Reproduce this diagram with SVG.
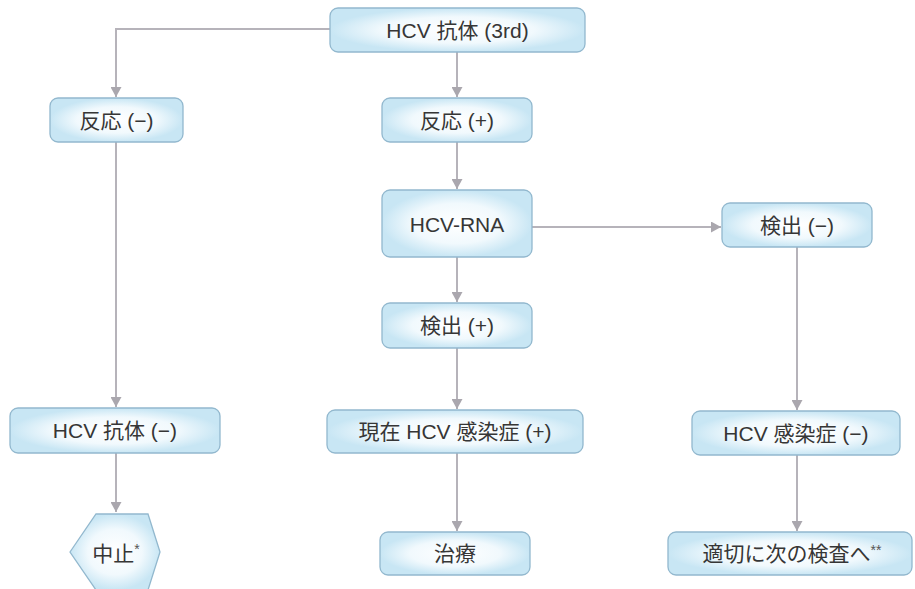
<svg xmlns="http://www.w3.org/2000/svg" width="915" height="589" viewBox="0 0 915 589">
<defs>
<radialGradient id="fillg" cx="0.5" cy="0.5" r="0.5">
<stop offset="0" stop-color="#ffffff"/>
<stop offset="0.6" stop-color="#f1f9fd"/>
<stop offset="1" stop-color="#c8e6f4"/>
</radialGradient>
<marker id="arr" markerUnits="userSpaceOnUse" markerWidth="11" markerHeight="11" refX="10" refY="5.5" orient="auto">
<path d="M0,0 L10,5.5 L0,11 z" fill="#aaa7ae"/>
</marker>
<style>
.box{fill:url(#fillg);stroke:#92b8ce;stroke-width:1.3}
.t{font-family:"Liberation Sans","Noto Sans CJK JP",sans-serif;font-size:21px;fill:#363636;text-anchor:middle;dominant-baseline:central}
.sup{font-size:14px;fill:#555}
.c{fill:none;stroke:#b6b3ba;stroke-width:2;marker-end:url(#arr)}
</style>
</defs>
<rect width="915" height="589" fill="#ffffff"/>
<g id="connectors">
<path class="c" d="M330,29 H116 V97"/>
<path class="c" d="M457,52 V97"/>
<path class="c" d="M116,142 V407"/>
<path class="c" d="M457,142 V189"/>
<path class="c" d="M457,257 V302"/>
<path class="c" d="M532,227 H721"/>
<path class="c" d="M457,348 V409"/>
<path class="c" d="M797,247 V410"/>
<path class="c" d="M116,453 V512"/>
<path class="c" d="M457,453 V531"/>
<path class="c" d="M797,455 V531"/>
</g>
<g id="n1"><rect class="box" x="330" y="8" width="255" height="44" rx="8"/><text class="t" x="457.5" y="30">HCV 抗体 (3rd)</text></g>
<g id="n2"><rect class="box" x="50" y="98" width="133" height="44" rx="8"/><text class="t" x="116.5" y="120">反応 (−)</text></g>
<g id="n3"><rect class="box" x="382" y="98" width="150" height="44" rx="8"/><text class="t" x="457" y="120">反応 (+)</text></g>
<g id="n4"><rect class="box" x="382" y="190" width="150" height="67" rx="8"/><text class="t" x="457" y="224">HCV-RNA</text></g>
<g id="n5"><rect class="box" x="722" y="203" width="150" height="44" rx="8"/><text class="t" x="797" y="225">検出 (−)</text></g>
<g id="n6"><rect class="box" x="382" y="303" width="150" height="45" rx="8"/><text class="t" x="457" y="325.5">検出 (+)</text></g>
<g id="n7"><rect class="box" x="10" y="408" width="210" height="45" rx="8"/><text class="t" x="115" y="430.5">HCV 抗体 (−)</text></g>
<g id="n8"><rect class="box" x="327" y="410" width="256" height="43" rx="8"/><text class="t" x="455" y="431.5">現在 HCV 感染症 (+)</text></g>
<g id="n9"><rect class="box" x="692" y="411" width="208" height="44" rx="8"/><text class="t" x="796" y="433">HCV 感染症 (−)</text></g>
<g id="n10"><polygon class="box" points="70,552 96,514 148,514 160,552 148,590 96,590"/><text class="t" x="116" y="553">中止<tspan class="sup" dy="-4">*</tspan></text></g>
<g id="n11"><rect class="box" x="380" y="532" width="150" height="43" rx="8"/><text class="t" x="455" y="553.5">治療</text></g>
<g id="n12"><rect class="box" x="668" y="532" width="244" height="43" rx="8"/><text class="t" x="792" y="553.5">適切に次の検査へ<tspan class="sup" dy="-4">**</tspan></text></g>
</svg>
